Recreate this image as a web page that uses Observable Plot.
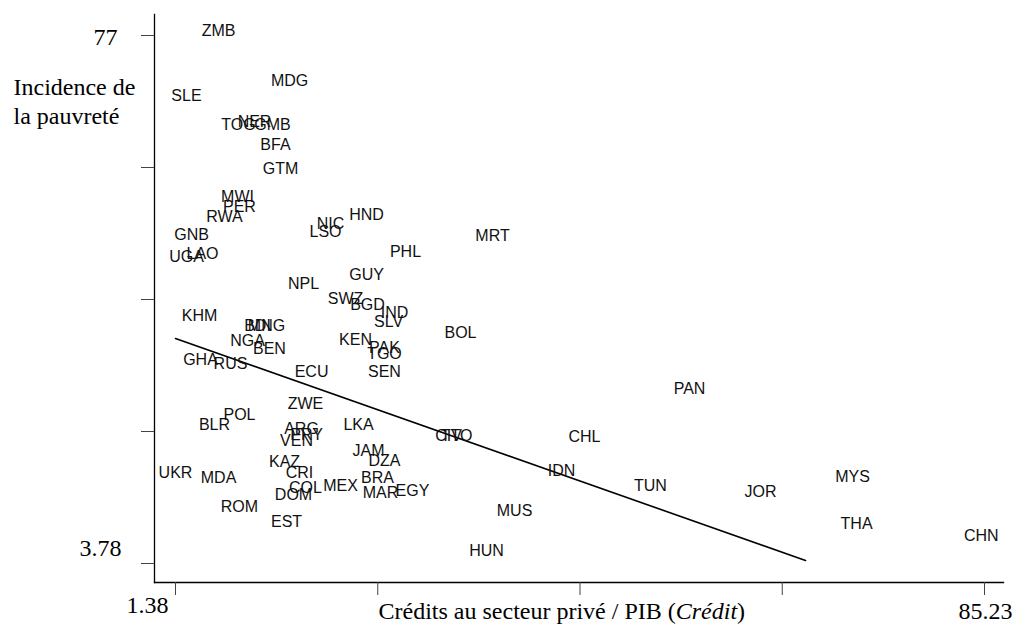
<!DOCTYPE html>
<html>
<head>
<meta charset="utf-8">
<script src="https://cdn.jsdelivr.net/npm/d3@7"></script>
<script src="https://cdn.jsdelivr.net/npm/@observablehq/plot@0.6"></script>
<style>
  html, body { margin: 0; padding: 0; background: white; }
</style>
</head>
<body>
<div id="chart"></div>
<script>
const codes = ["ZMB","MDG","SLE","TOG","NER","GMB","BFA","GTM","MWI","PER","RWA","GNB","UGA","LAO","NIC","LSO","HND","PHL","MRT","NPL","GUY","SWZ","BGD","IND","SLV","KHM","BDI","MNG","NGA","BEN","KEN","PAK","TGO","SEN","BOL","GHA","RUS","ECU","PAN","ZWE","POL","BLR","ARG","PRY","VEN","LKA","CIV","TTO","CHL","JAM","DZA","KAZ","CRI","UKR","MDA","BRA","IDN","COL","MEX","MAR","EGY","DOM","TUN","JOR","MYS","ROM","MUS","EST","THA","CHN","HUN"];
const credit = [5.84,13.20,2.52,7.91,9.57,11.43,11.74,12.26,7.81,8.01,6.46,3.04,2.52,4.18,17.45,16.93,21.18,25.22,34.24,14.65,21.18,19.00,21.28,24.08,23.46,3.87,9.88,10.81,8.84,11.12,20.04,23.04,23.04,23.04,30.92,3.97,7.08,15.48,54.66,14.85,8.01,5.42,14.44,14.96,13.92,20.35,29.68,30.51,43.77,21.38,23.04,12.68,14.23,1.38,5.84,22.32,41.39,14.85,18.48,22.63,25.94,13.61,50.61,62.02,71.55,8.01,36.52,12.89,71.97,84.9,33.61];
const poverty = [77.69,70.76,68.68,64.66,65.07,64.66,61.88,58.56,54.67,53.29,51.90,49.40,46.35,46.77,50.93,49.82,52.18,47.05,49.27,42.61,43.86,40.53,39.70,38.59,37.34,38.17,36.79,36.79,34.71,33.60,34.84,33.73,32.90,30.41,35.81,32.07,31.52,30.41,28.05,25.97,24.44,23.06,22.50,21.67,20.84,23.06,21.53,21.53,21.39,19.45,18.07,17.93,16.40,16.40,15.71,15.71,16.68,14.32,14.60,13.63,13.90,13.35,14.60,13.77,15.85,11.69,11.13,9.61,9.33,7.66,5.58];

const fitCredit = [1.38, 66.68];
const fitPoverty = [34.98, 4.20];

const xTicks = [1.38, 22.3425, 43.305, 64.2675, 85.23];
const yTicks = [3.78, 22.085, 40.39, 58.695, 77];
const xTitle = "Crédits au secteur privé / PIB (Crédit)";
const yTitle = "Incidence de\nla pauvreté";

const points = codes.map((c, i) => ({code: c, credit: credit[i], poverty: poverty[i]}));
const fit = fitCredit.map((c, i) => ({credit: c, poverty: fitPoverty[i]}));

const serif = "'Liberation Serif', 'Times New Roman', serif";
const sans = "'Liberation Sans', Arial, Helvetica, sans-serif";

const chart = Plot.plot({
  width: 1018,
  height: 627,
  marginLeft: 154,
  marginRight: 15,
  marginTop: 14,
  marginBottom: 45,
  style: {background: "white", color: "black"},
  x: {domain: [1.38, 85.23], range: [175, 984]},
  y: {domain: [3.78, 77], range: [563, 35]},
  marks: [
    Plot.frame({anchor: "left", stroke: "black", strokeWidth: 1.3}),
    Plot.frame({anchor: "bottom", stroke: "black", strokeWidth: 1.3}),
    Plot.axisX({ticks: xTicks, tickSize: 13, tickFormat: () => "", stroke: "#444", label: null}),
    Plot.axisY({ticks: yTicks, tickSize: 13, tickFormat: () => "", stroke: "#444", label: null}),
    Plot.text([77], {y: d => d, text: d => String(d), frameAnchor: "left", textAnchor: "end", dx: -37, dy: 2, fontSize: 24, fontFamily: serif, fill: "black"}),
    Plot.text([3.78], {y: d => d, text: d => String(d), frameAnchor: "left", textAnchor: "end", dx: -33, dy: -15, fontSize: 24, fontFamily: serif, fill: "black"}),
    Plot.text([1.38], {x: d => d, text: d => String(d), frameAnchor: "bottom", dx: -28, dy: 30, fontSize: 24, fontFamily: serif, fill: "black"}),
    Plot.text([85.23], {x: d => d, text: d => String(d), frameAnchor: "bottom", dx: 1, dy: 36, fontSize: 24, fontFamily: serif, fill: "black"}),
    Plot.text([yTitle], {text: d => d, frameAnchor: "top-left", textAnchor: "start", dx: -141, dy: 60, lineHeight: 1.2, fontSize: 24, fontFamily: serif, fill: "black"}),
    Plot.text([xTitle], {text: d => d, frameAnchor: "bottom-left", textAnchor: "start", dx: 224, dy: 36, fontSize: 24, fontFamily: serif, fill: "black"}),
    Plot.line(fit, {x: "credit", y: "poverty", stroke: "black", strokeWidth: 1.6}),
    Plot.text(points, {x: "credit", y: "poverty", text: "code", fontSize: 16, fontFamily: sans, fill: "#111"})
  ]
});

chart.querySelectorAll("text").forEach(t => {
  if (t.textContent === xTitle) {
    t.textContent = "";
    const ns = "http://www.w3.org/2000/svg";
    const a = document.createElementNS(ns, "tspan"); a.textContent = "Crédits au secteur privé / PIB (";
    const b = document.createElementNS(ns, "tspan"); b.textContent = "Crédit"; b.setAttribute("font-style", "italic");
    const c = document.createElementNS(ns, "tspan"); c.textContent = ")";
    t.append(a, b, c);
  }
});

document.getElementById("chart").appendChild(chart);
</script>
</body>
</html>
